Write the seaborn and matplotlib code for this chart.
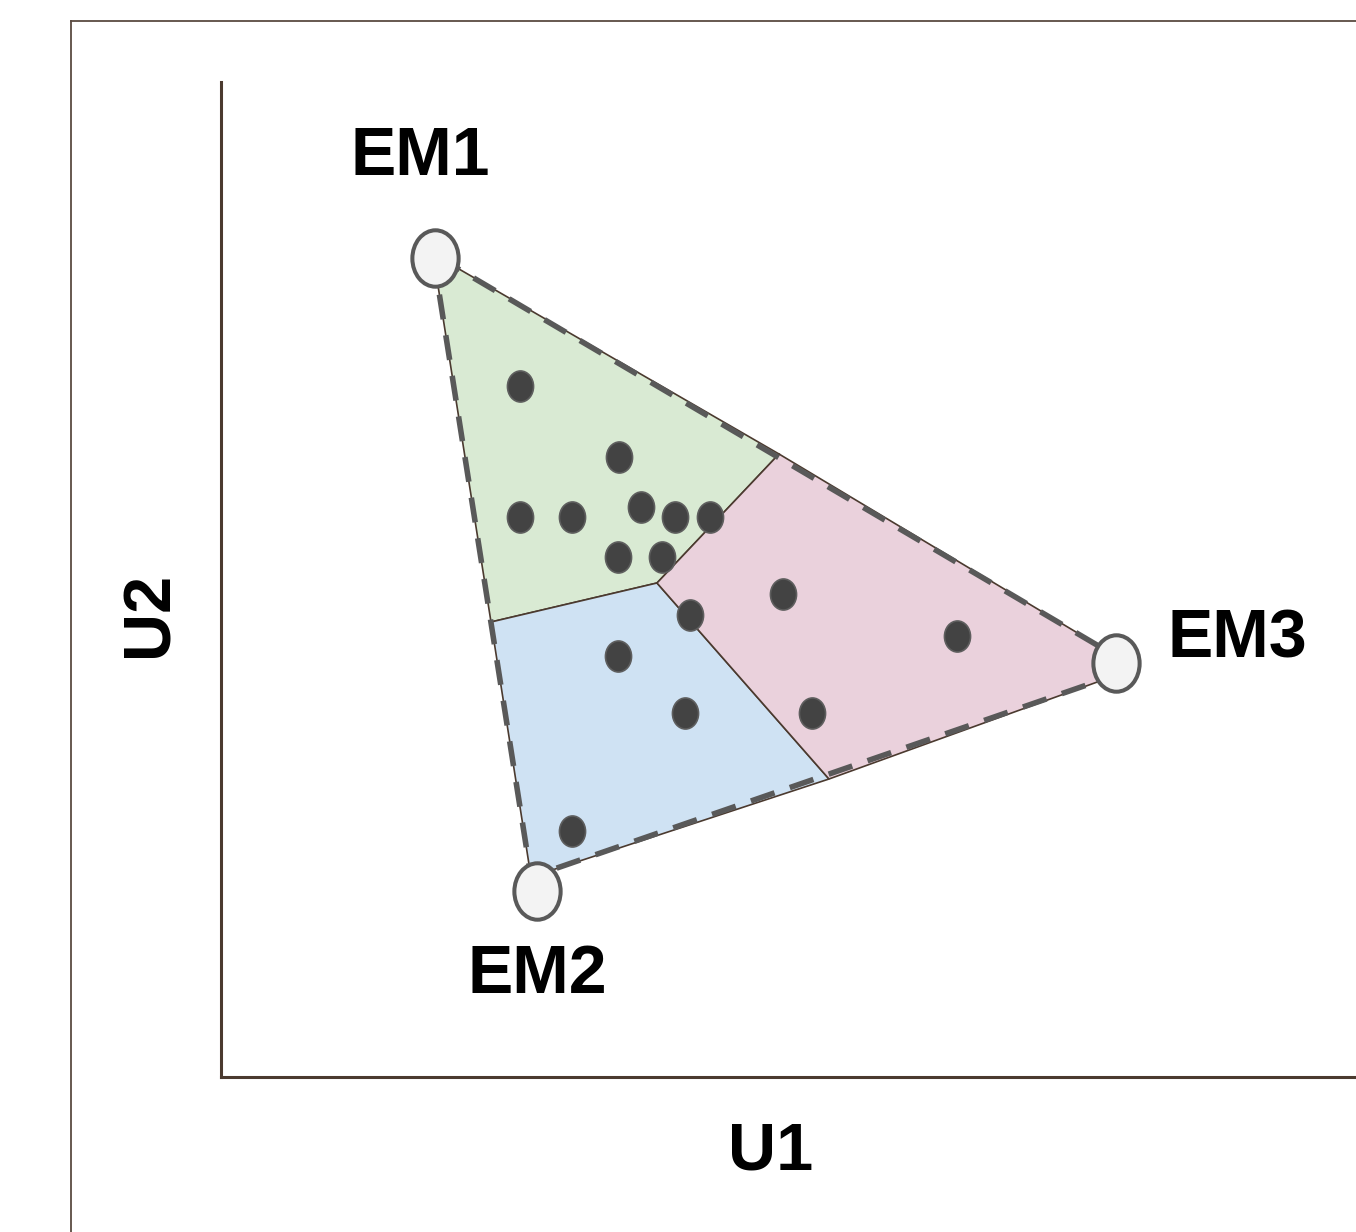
import numpy as np
import pandas as pd
import seaborn as sns
import matplotlib.pyplot as plt
from matplotlib.path import Path
from matplotlib.transforms import Affine2D

# endmember positions (U1, U2)
em_names = ['EM1', 'EM2', 'EM3']
em_u1 = [2.14, 3.16, 8.95]
em_u2 = [8.19, 1.86, 4.14]

# mixing triangle corners and the split points of the three regions
tri_u1 = [2.12, 3.10, 9.15]
tri_u2 = [8.23, 2.00, 4.09]
split_u1 = [5.58, 6.08, 2.70]   # on EM1-EM3, EM2-EM3, EM1-EM2 edges
split_u2 = [6.23, 2.98, 4.55]
centre_u1, centre_u2 = 4.36, 4.94

# samples
pt_u1 = [2.99, 3.98, 2.99, 3.51, 4.20, 4.54, 4.89, 3.97, 4.41, 4.69,
         5.62, 7.36, 3.97, 4.64, 5.91, 3.51]
pt_u2 = [6.91, 6.20, 5.60, 5.60, 5.70, 5.60, 5.60, 5.20, 5.20, 4.62,
         4.83, 4.41, 4.21, 3.64, 3.64, 2.46]

region_colors = {'EM1': '#d9ead3', 'EM2': '#cfe2f3', 'EM3': '#ead1dc'}
brown = '#4b3a2f'


def oval(ratio):
    # upright ellipse used as marker
    return Path.unit_circle().transformed(Affine2D().scale(ratio, 1.0))


sns.set_style('white')
plt.rcParams['font.family'] = ['Liberation Sans', 'DejaVu Sans']

fig = plt.figure(figsize=(13.56, 12.32), dpi=100)

# outer frame (only left and top edges visible)
frame = fig.add_axes([71 / 1356, -0.2, 1.2, (1232 - 21) / 1232 + 0.2])
frame.set_xticks([])
frame.set_yticks([])
for side in ['right', 'bottom']:
    frame.spines[side].set_visible(False)
for side in ['left', 'top']:
    frame.spines[side].set_color('#5b4b41')
    frame.spines[side].set_linewidth(1.3)
frame.set_zorder(0)

ax = fig.add_axes([221 / 1356, 155 / 1232, 1150 / 1356, 995 / 1232])
ax.set_facecolor('none')
ax.set_zorder(1)
ax.set_xlim(0, 11.5)
ax.set_ylim(0, 9.95)

# regions
regions = {
    'EM1': ([tri_u1[0], split_u1[0], centre_u1, split_u1[2]],
            [tri_u2[0], split_u2[0], centre_u2, split_u2[2]]),
    'EM2': ([split_u1[2], centre_u1, split_u1[1], tri_u1[1]],
            [split_u2[2], centre_u2, split_u2[1], tri_u2[1]]),
    'EM3': ([split_u1[0], tri_u1[2], split_u1[1], centre_u1],
            [split_u2[0], tri_u2[2], split_u2[1], centre_u2]),
}
for name, (xs, ys) in regions.items():
    ax.fill(xs, ys, facecolor=region_colors[name], edgecolor=brown,
            linewidth=1.2, zorder=1)

# dashed outline of the mixing triangle
ax.plot(tri_u1 + tri_u1[:1], tri_u2 + tri_u2[:1], color='#595959',
        linewidth=4.0, dashes=(4.5, 2.9), solid_capstyle='butt', zorder=2)

# samples
pts = pd.DataFrame({'U1': pt_u1, 'U2': pt_u2})
sns.scatterplot(data=pts, x='U1', y='U2', ax=ax, marker=oval(0.84), s=500,
                color='#434343', edgecolor='#5e5e5e', linewidth=1.2, zorder=4)

# endmembers
ems = pd.DataFrame({'U1': em_u1, 'U2': em_u2, 'name': em_names})
sns.scatterplot(data=ems, x='U1', y='U2', ax=ax, marker=oval(0.82), s=1650,
                color='#f3f3f3', edgecolor='#595959', linewidth=2.9, zorder=5)

label_u1 = [1.99, 3.16, 10.16]
label_u2 = [9.02, 0.84, 4.19]
for name, x, y in zip(em_names, label_u1, label_u2):
    ax.text(x, y, name, ha='center', va='baseline', fontsize=49,
            fontweight='bold', color='black')

ax.set_xticks([])
ax.set_yticks([])
ax.set_xlabel('U1', fontsize=48, fontweight='bold', color='black')
ax.set_ylabel('U2', fontsize=48, fontweight='bold', color='black')
ax.xaxis.label.set_va('baseline')
ax.xaxis.set_label_coords(550 / 1150, -93 / 995)
ax.yaxis.label.set_va('center')
ax.yaxis.set_label_coords(-71 / 1150, 463 / 995)

for side in ['right', 'top']:
    ax.spines[side].set_visible(False)
for side in ['left', 'bottom']:
    ax.spines[side].set_color(brown)
    ax.spines[side].set_linewidth(2.2)

fig.savefig('out.png', dpi=100)
